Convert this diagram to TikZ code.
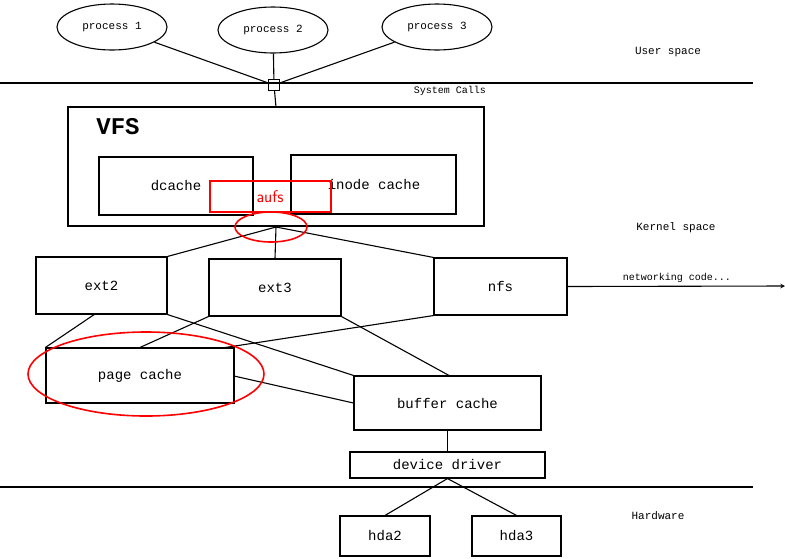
\documentclass[tikz,border=0pt]{standalone}
\usepackage{fontspec}
\usetikzlibrary{shapes.geometric}
\setmonofont{Liberation Mono}
\setmainfont{Liberation Sans}
\begin{document}
\begin{tikzpicture}[x=1pt,y=-1pt,line width=1.1pt,
  box/.style={draw,rectangle,inner sep=0pt},
  lab/.style={font=\ttfamily\fontsize{14}{16}\selectfont},
  sm/.style={font=\ttfamily\fontsize{10}{12}\selectfont},
  proc/.style={draw,ellipse,minimum width=110pt,minimum height=46pt,inner sep=0pt,font=\ttfamily\fontsize{11}{13}\selectfont},
  hl/.style={draw=red,line width=1.6pt}]
\useasboundingbox (0,0) rectangle (785,558);
\node[proc] (p1) at (112,27) {process 1};
\node[proc] (p2) at (273,30) {process 2};
\node[proc] (p3) at (437,27) {process 3};
\node[draw,rectangle,minimum size=11pt,inner sep=0pt,line width=0.9pt] (sq) at (274,85) {};
\draw (0,83) -- (753,83);
\draw (0,487) -- (753,487);
\draw (p1) -- (sq); \draw (p2) -- (sq); \draw (p3) -- (sq);
\node[sm,font=\ttfamily\fontsize{11}{13}\selectfont] at (668,52) {User space};
\node[sm] at (450,91) {System Calls};
\node[sm,font=\ttfamily\fontsize{11}{13}\selectfont] at (676,228) {Kernel space};
\node[sm,font=\ttfamily\fontsize{11}{13}\selectfont] at (658,516) {Hardware};
\draw (68,107) rectangle (484,226);
\coordinate (vt) at (276,107);
\draw (sq) -- (vt);
\node[font=\ttfamily\bfseries\fontsize{24}{26}\selectfont] (vfs) at (118,127) {VFS};
\draw (99,157) rectangle (253,215); \node[lab] (dc) at (176,186) {dcache};
\draw (291,155) rectangle (456,214); \node[lab] (ic) at (374,185) {inode cache};
\coordinate (j) at (276,227);
\node[box,minimum width=131pt,minimum height=57pt,lab] (ext2) at (101.5,285.5) {ext2};
\node[box,minimum width=132pt,minimum height=57pt,lab] (ext3) at (275,287.5) {ext3};
\node[box,minimum width=133pt,minimum height=57pt,lab] (nfs) at (500.5,286.5) {nfs};
\draw (j) -- (ext2.north east); \draw (j) -- (ext3.north); \draw (j) -- (nfs.north west);
\coordinate (nc) at (785,286);
\draw[-stealth] (nfs.east) -- (nc);
\node[sm] at (677,278) {networking code...};
\node[box,minimum width=188pt,minimum height=55pt,lab] (pc) at (140,375.5) {page cache};
\node[box,minimum width=187pt,minimum height=54pt,lab] (bc) at (447.5,403) {buffer cache};
\draw (95,314) -- (pc.north west);
\draw (ext2.south east) -- (bc.north west);
\draw (ext3.south west) -- (pc.north);
\draw (ext3.south east) -- (450,376);
\draw (nfs.south west) -- (222,348);
\draw (234,376) -- (bc.west);
\node[box,minimum width=195pt,minimum height=26pt,lab] (dd) at (447.5,465) {device driver};
\draw (bc.south) -- (dd.north);
\node[box,minimum width=90pt,minimum height=40pt,lab] (h2) at (385,536) {hda2};
\node[box,minimum width=89pt,minimum height=40pt,lab] (h3) at (516.5,536) {hda3};
\draw (dd.south) -- (h2.north); \draw (dd.south) -- (h3.north);
\draw[hl] (210,181) rectangle (331,212);
\node[text=red,font=\sffamily\fontsize{17}{19}\selectfont] (aufs) at (270,197) {aufs};
\draw[hl] (271,227) ellipse (36 and 15);
\draw[hl] (146,374) ellipse (118 and 42);
\end{tikzpicture}
\end{document}
